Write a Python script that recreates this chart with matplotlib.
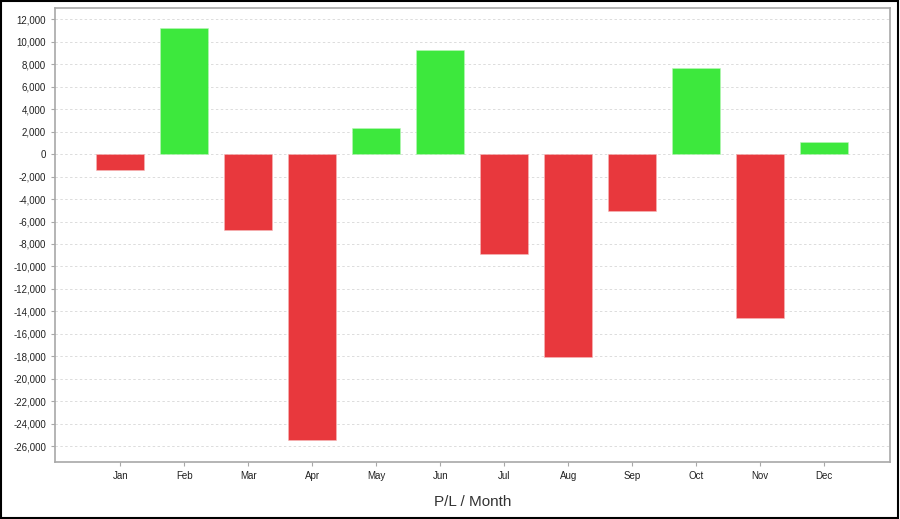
import matplotlib
matplotlib.use("Agg")
import matplotlib.pyplot as plt
from matplotlib.ticker import FuncFormatter, MultipleLocator
from matplotlib.patches import Rectangle

# Monthly profit / loss values
months = ["Jan", "Feb", "Mar", "Apr", "May", "Jun",
          "Jul", "Aug", "Sep", "Oct", "Nov", "Dec"]
pnl = [-1400, 11200, -6750, -25400, 2300, 9250,
       -8900, -18050, -5070, 7650, -14580, 1070]

GREEN = "#3DE83D"
RED = "#E8383D"

plt.rcParams["font.family"] = ["Liberation Sans", "DejaVu Sans"]

fig = plt.figure(figsize=(9, 5.19), dpi=100)
ax = fig.add_axes([0.0611, 0.1098, 0.9279, 0.8748])

colors = [GREEN if v >= 0 else RED for v in pnl]
x = range(len(months))
bars = ax.bar(x, pnl, width=0.75, color=colors, linewidth=0.4, zorder=3)
for bar, c in zip(bars, colors):
    bar.set_edgecolor("#b8f5b8" if c == GREEN else "#f5b8b8")

ax.set_xlim(-1.02, 12.03)
ax.set_ylim(-27400, 13000)
ax.yaxis.set_major_locator(MultipleLocator(2000))
ax.yaxis.set_major_formatter(FuncFormatter(lambda v, p: f"{int(v):,}"))
ax.set_xticks(list(x))
ax.set_xticklabels(months)

ax.grid(axis="y", color="#dcdcdc", linestyle=(0, (2.5, 2.5)), linewidth=0.7, zorder=0)
for s in ax.spines.values():
    s.set_color("#a8a8a8")
    s.set_linewidth(1.2)

ax.tick_params(axis="both", labelsize=7, colors="#a8a8a8", labelcolor="#222222", length=3)
ax.set_xlabel("P/L / Month", fontsize=11, color="#333333", labelpad=10)

# outer black frame around the figure
fig.patches.append(Rectangle((0.001, 0.002), 0.997, 0.996, transform=fig.transFigure,
                             fill=False, edgecolor="black", linewidth=1.5))

fig.savefig("out.png", dpi=100)
